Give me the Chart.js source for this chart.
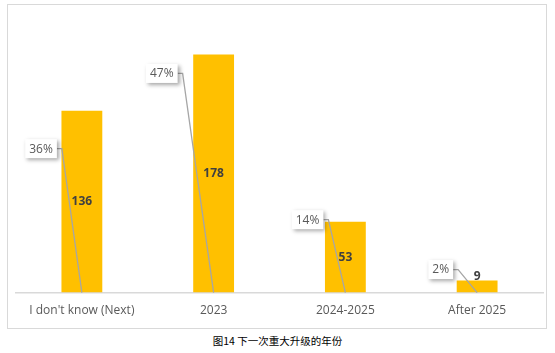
<!DOCTYPE html>
<html>
<head>
<meta charset="utf-8">
<script src="https://cdn.jsdelivr.net/npm/chart.js@4.4.0/dist/chart.umd.min.js"></script>
<style>
  body { margin: 0; background: #fff; width: 555px; height: 353px; position: relative; overflow: hidden; }
  #frame { position: absolute; left: 7px; top: 4px; width: 538px; height: 323px; border: 1.5px solid #d9d9d9; }
  #wrap { position: absolute; left: 0; top: 0; width: 555px; height: 330px; }
  #caption { position: absolute; left: 0; width: 555px; top: 333px; text-align: center;
    font-family: "Noto Sans CJK SC", sans-serif; font-size: 10.5px; color: #000; }
</style>
</head>
<body>
<div id="frame"></div>
<div id="wrap"><canvas id="upgradeChart" width="555" height="330"></canvas></div>
<div id="caption">图14 下一次重大升级的年份</div>
<script>
const categories = ['I don\'t know (Next)', '2023', '2024-2025', 'After 2025'];
const counts = [136, 178, 53, 9];
const percents = [36, 47, 14, 2];

// callout placement, relative to each bar (px)
const calloutDx = [-25, -36, -22, -24];   // box right edge from bar centre
const calloutDy = [38, 19, -2, -11];      // box centre from bar top

const calloutPlugin = {
  id: 'callouts',
  afterDatasetsDraw(chart) {
    const ctx = chart.ctx;
    const bars = chart.getDatasetMeta(0).data;
    ctx.save();
    ctx.textBaseline = 'middle';
    bars.forEach((bar, i) => {
      // value label
      ctx.fillStyle = '#404040';
      ctx.font = 'bold 12px "Open Sans", sans-serif';
      ctx.textAlign = 'center';
      const h = bar.base - bar.y;
      const vy = h < 25 ? bar.y - 4 : bar.y + h / 2;
      ctx.fillText(counts[i], bar.x, vy);

      // percentage callout
      ctx.font = '12px "Open Sans", sans-serif';
      const txt = percents[i] + '%';
      const tw = ctx.measureText(txt).width;
      const right = bar.x + calloutDx[i];
      const cy = bar.y + calloutDy[i];
      const bw = tw + 8, bh = 19;
      const left = right - bw;

      // leader line
      ctx.strokeStyle = '#a6a6a6';
      ctx.lineWidth = 1.3;
      ctx.beginPath();
      ctx.moveTo(right, cy);
      ctx.lineTo(right + 5, cy);
      ctx.lineTo(bar.x, bar.base);
      ctx.stroke();

      // box with shadow
      ctx.shadowColor = 'rgba(0,0,0,0.35)';
      ctx.shadowBlur = 4;
      ctx.shadowOffsetX = 2;
      ctx.shadowOffsetY = 2;
      ctx.fillStyle = '#ffffff';
      ctx.fillRect(left, cy - bh / 2, bw, bh);
      ctx.shadowColor = 'transparent';
      ctx.fillStyle = '#595959';
      ctx.textAlign = 'center';
      ctx.fillText(txt, left + bw / 2, cy + 0.5);
    });
    ctx.restore();
  }
};

const ctx = document.getElementById('upgradeChart').getContext('2d');
new Chart(ctx, {
  type: 'bar',
  data: {
    labels: categories,
    datasets: [{
      data: counts,
      backgroundColor: '#FFC000',
      categoryPercentage: 1.0,
      barPercentage: 0.31
    }]
  },
  options: {
    responsive: false,
    animation: false,
    devicePixelRatio: 1,
    layout: { padding: { left: 16, right: 12, top: 25, bottom: 9 } },
    plugins: { legend: { display: false }, tooltip: { enabled: false } },
    scales: {
      x: {
        grid: { display: false },
        border: { display: true, color: '#d9d9d9', width: 1.5 },
        ticks: { color: '#595959', font: { family: '"Open Sans", sans-serif', size: 12 }, padding: 3, maxRotation: 0 }
      },
      y: { display: false, min: 0, max: 200 }
    }
  },
  plugins: [calloutPlugin]
});
</script>
</body>
</html>
